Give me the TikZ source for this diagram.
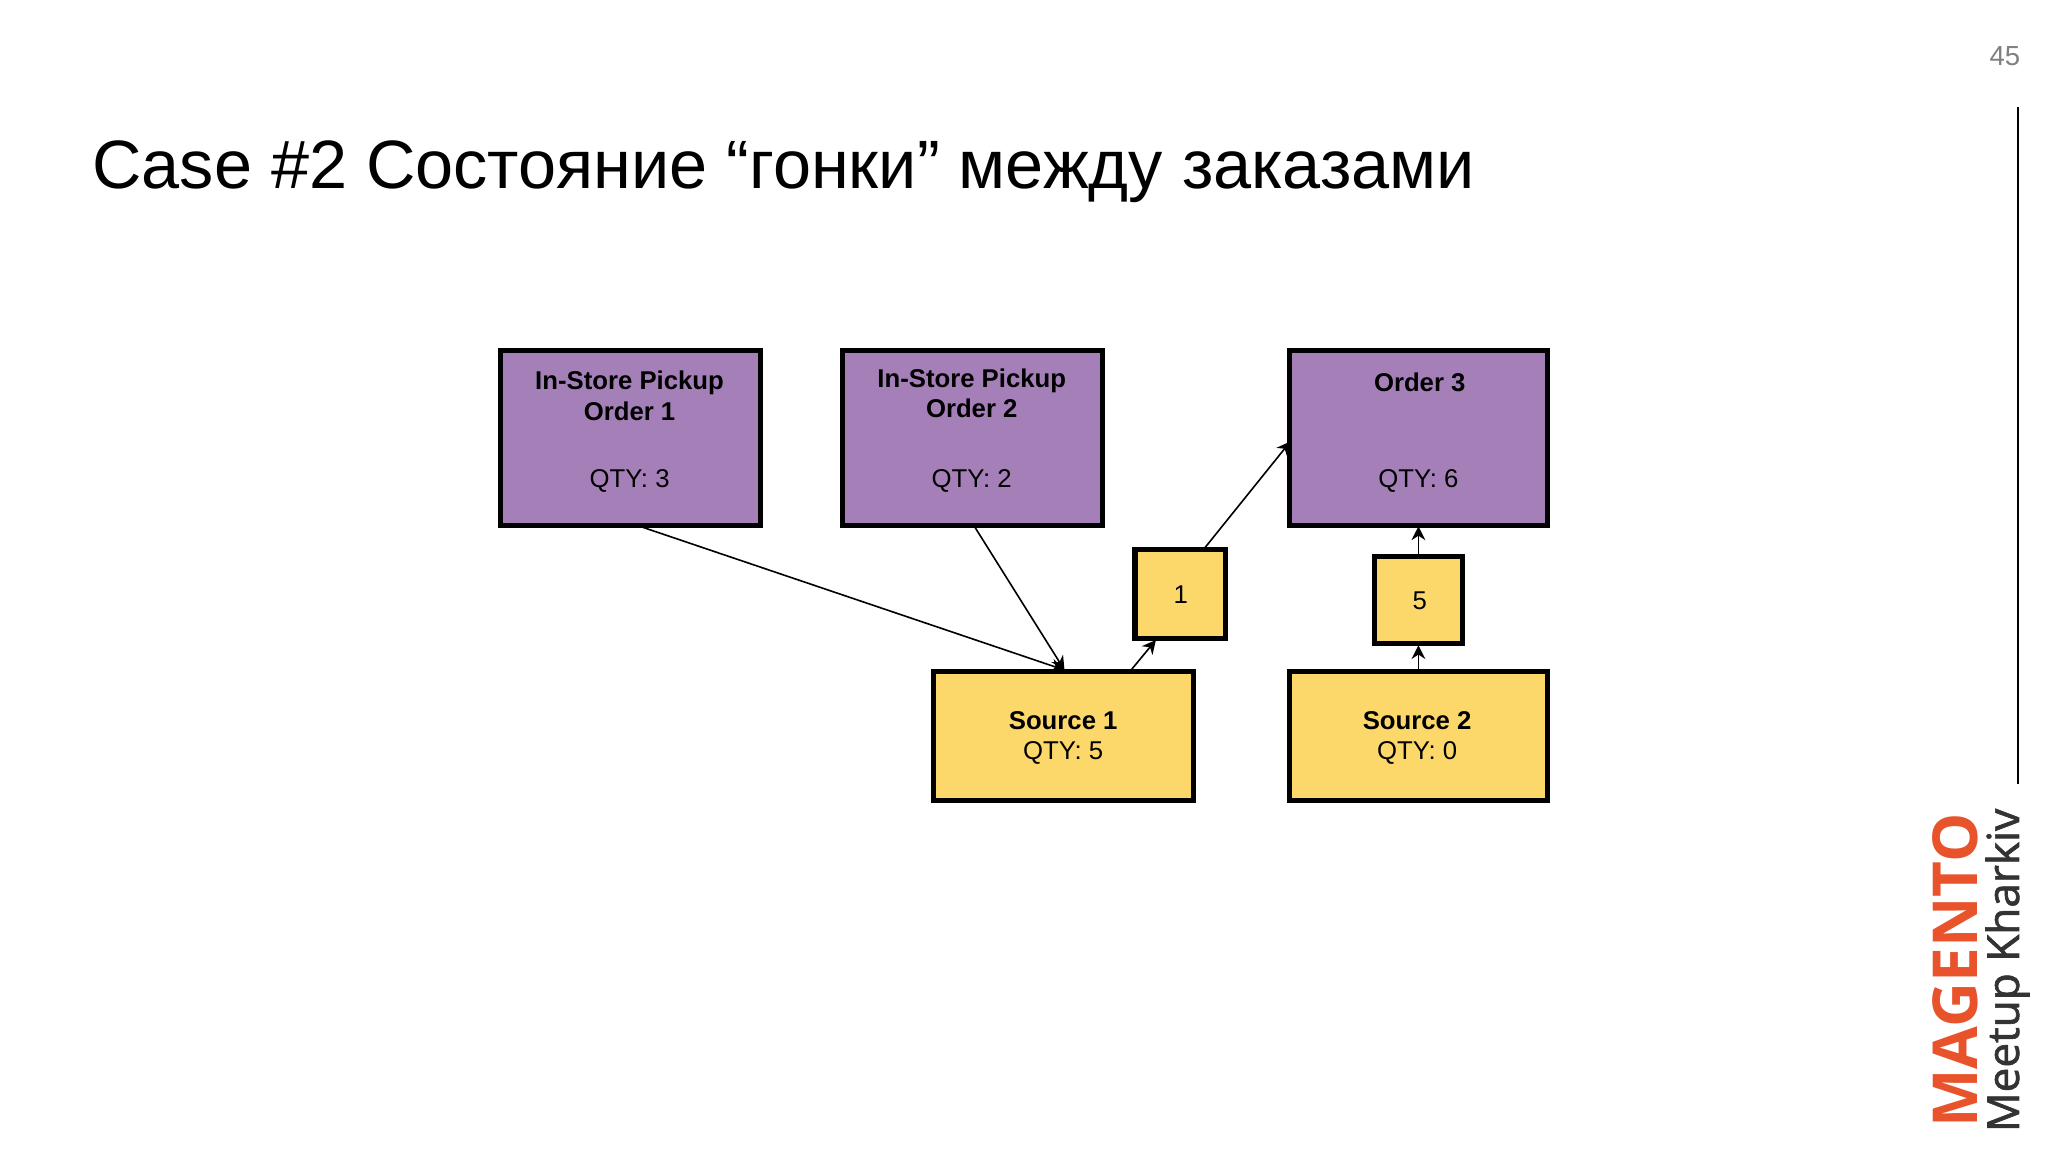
\documentclass[tikz,border=0pt]{standalone}
\usepackage{fontspec}
\setmainfont{Liberation Sans}
\newfontfamily\logofont{Open Sans}
\usetikzlibrary{arrows.meta}
\definecolor{purp}{HTML}{A57FB8}
\definecolor{yel}{HTML}{FCD86A}
\definecolor{mag}{HTML}{E8532B}
\tikzset{
 box/.style={draw=black,line width=1.1pt,inner sep=0pt},
 lbl/.style={font=\fontsize{5.6}{6.6}\selectfont,align=center},
 conn/.style={-{Stealth[length=3pt,width=3pt]},line width=0.35pt}
}
\begin{document}
\begin{tikzpicture}[x=0.01cm,y=-0.01cm]
\useasboundingbox (0,0) rectangle (1568,882);
\fill[white] (0,0) rectangle (1568,882);
\node[text=gray,font=\fontsize{6}{7}\selectfont] (pg) at (1535,43) {45};
\draw[line width=0.6pt] (1545,82) coordinate (l1) -- (1545,600) coordinate (l2);
\node[anchor=base west,inner sep=0pt,font=\fontsize{14.9}{17}\selectfont] (title) at (70,144) {Case \#2 Состояние “гонки” между заказами};
% boxes
\draw[box,fill=purp] (383,268) rectangle (582,402);
\draw[box,fill=purp] (645,268) rectangle (844,402);
\draw[box,fill=purp] (987,268) rectangle (1185,402);
\draw[box,fill=yel] (715,514) rectangle (914,613);
\draw[box,fill=yel] (987,514) rectangle (1185,613);
\draw[box,fill=yel] (869,421) rectangle (938,489);
\draw[box,fill=yel] (1052,426) rectangle (1120,493);
\node[lbl,font=\bfseries\fontsize{5.6}{6.6}\selectfont] (o1t) at (482,303) {In-Store Pickup\\Order 1};
\node[lbl] (o1q) at (482,368) {QTY: 3};
\node[lbl,font=\bfseries\fontsize{5.6}{6.6}\selectfont] (o2t) at (744,301) {In-Store Pickup\\Order 2};
\node[lbl] (o2q) at (744,368) {QTY: 2};
\node[lbl,font=\bfseries\fontsize{5.6}{6.6}\selectfont] (o3t) at (1087,293) {Order 3};
\node[lbl] (o3q) at (1086,368) {QTY: 6};
\node[lbl] (s1t) at (814,565) {\textbf{Source 1}\\QTY: 5};
\node[lbl] (s2t) at (1085,565) {\textbf{Source 2}\\QTY: 0};
\node[lbl] (b1t) at (904,455) {1};
\node[lbl] (b5t) at (1087,460) {5};
% connectors
\draw[conn] (490,403) -- (815,513);
\draw[conn] (746,403) -- (815,513);
\draw[conn] (866,513) -- (885,490);
\draw[conn] (922,420) -- (988,338);
\draw[conn] (1086,513) -- (1086,494);
\draw[conn] (1086,425) -- (1086,403);
% logo
\node[rotate=90,anchor=center,text=mag,font=\logofont\bfseries\fontsize{13.5}{14}\selectfont,inner sep=0pt] (mg) at (1497,743) {MAGENTO};
\node[rotate=90,anchor=center,text=black!80,font=\logofont\fontsize{9.6}{11}\selectfont,inner sep=0pt] (mk) at (1537,743) {\addfontfeature{FakeBold=1.5}Meetup Kharkiv};
\end{tikzpicture}
\end{document}
